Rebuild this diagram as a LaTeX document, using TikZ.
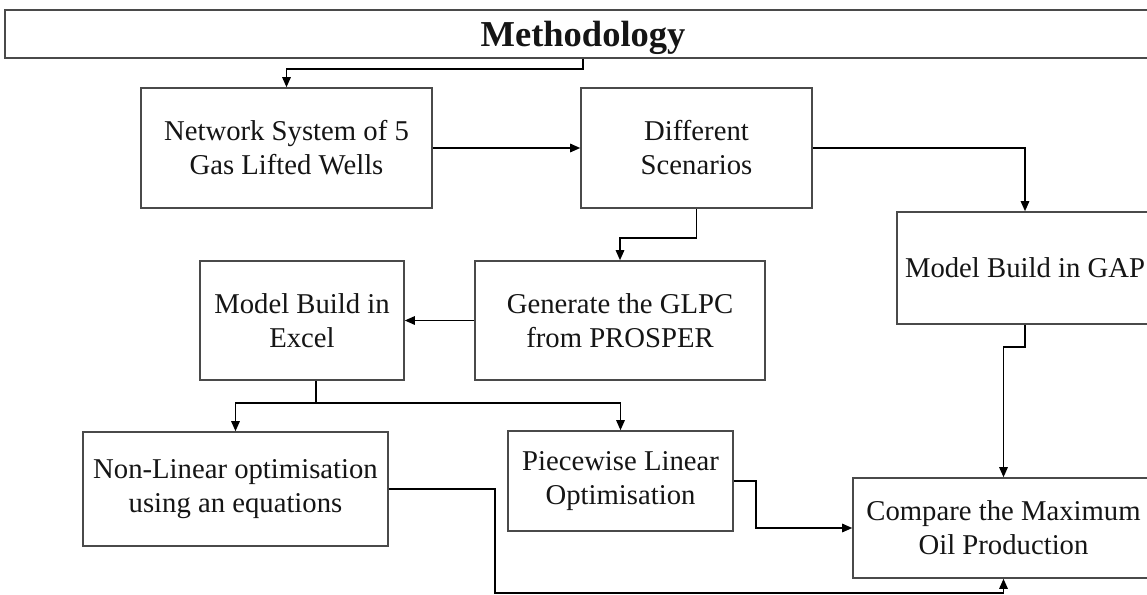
\documentclass[tikz,border=0pt]{standalone}
\usepackage{fontspec}
\setmainfont{Liberation Serif}
\usetikzlibrary{arrows.meta,calc}
\definecolor{boxline}{HTML}{4A4A4A}
\definecolor{ink}{HTML}{151515}
\begin{document}
\begin{tikzpicture}[x=1pt,y=-1pt,
  box/.style={draw=boxline,line width=1.6pt,fill=white,inner sep=0pt,
    align=center,text=ink,font=\fontsize{28.7}{34}\selectfont},
  arr/.style={draw=black,line width=1.4pt,-{Triangle[length=10pt,width=8.5pt]}}]
\useasboundingbox (0,0) rectangle (1147,594);
\clip (0,0) rectangle (1147,594);

% boxes
\node[box,minimum width=1156pt,minimum height=48pt,text height=29pt,text depth=5pt,
  font=\fontsize{36.5}{40}\selectfont\bfseries] (title) at (583,34) {Methodology};
\node[box,minimum width=291pt,minimum height=120pt] (net) at (286.5,148)
  {Network System of 5\\Gas Lifted Wells};
\node[box,minimum width=231pt,minimum height=120pt] (scen) at (696.5,148)
  {Different\\Scenarios};
\node[box,minimum width=256pt,minimum height=112pt] (gap) at (1025,268)
  {Model Build in GAP};
\node[box,minimum width=290pt,minimum height=119pt] (glpc) at (620,320.5)
  {Generate the GLPC\\from PROSPER};
\node[box,minimum width=204pt,minimum height=119pt] (excel) at (302,320.5)
  {Model Build in\\Excel};
\node[box,minimum width=305pt,minimum height=114pt] (nonlin) at (235.5,489)
  {Non-Linear optimisation\\using an equations};
\node[box,minimum width=225pt,minimum height=100pt] (piece) at (620.5,481)
  {Piecewise Linear\\Optimisation};
\node[box,minimum width=301pt,minimum height=100pt] (comp) at (1003.5,528)
  {Compare the Maximum\\Oil Production};

% connectors
\draw[arr] (title.south) -- ++(0,10) -| (net.north);
\draw[arr] (net.east) -- (scen.west);
\draw[arr] (scen.east) -| (gap.north);
\draw[arr] (scen.south) -- ++(0,29) -| (glpc.north);
\draw[arr] (glpc.west) -- (excel.east);
\coordinate (split) at ($(excel.south)+(14,22)$);
\draw[line width=1.4pt] ($(excel.south)+(14,0)$) -- (split);
\draw[arr] (split) -| (nonlin.north);
\draw[arr] (split) -| (piece.north);
\draw[arr] (gap.south) -- ++(0,22) -| (comp.north);
\draw[arr] (piece.east) -- ++(22,0) |- (comp.west);
\draw[arr] (nonlin.east) -- ++(106,0) |- ($(comp.south)+(0,14)$) -- (comp.south);
\end{tikzpicture}
\end{document}
